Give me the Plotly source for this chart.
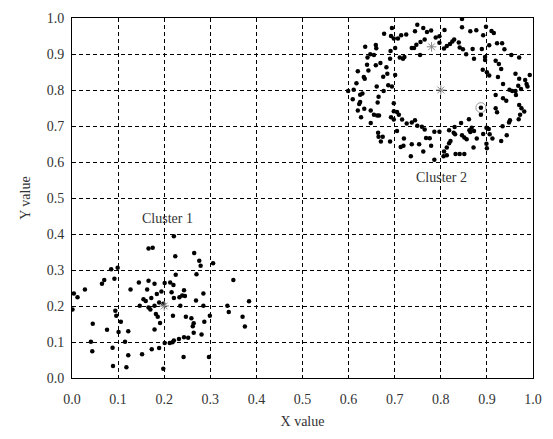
import plotly.graph_objects as go

# Cluster 1 points
c1_x = [0.166,0.175,0.085,0.099,0.092,0.065,0.070,0.028,0.004,0.012,0.127,0.145,0.166,0.179,0.163,0.184,0.194,0.155,0.160,0.172,
        0.147,0.166,0.170,0.179,0.189,0.001,0.094,0.096,0.182,0.186,0.191,0.106,0.045,0.076,0.101,0.122,0.179,0.041,0.115,0.044,
        0.088,0.122,0.152,0.173,0.189,0.089,0.118,0.198,
        0.221,0.224,0.265,0.276,0.279,0.306,0.225,0.270,0.350,0.201,0.213,0.220,0.243,0.216,0.285,0.233,0.239,0.245,0.221,0.269,
        0.384,0.198,0.235,0.285,0.337,0.340,0.219,0.247,0.259,0.299,0.370,0.264,0.262,0.287,0.375,0.264,0.281,0.243,0.252,0.232,
        0.221,0.218,0.201,0.212,0.242,0.297]
c1_y = [0.360,0.362,0.302,0.306,0.276,0.262,0.272,0.246,0.235,0.224,0.246,0.265,0.270,0.262,0.246,0.233,0.240,0.219,0.214,0.222,
        0.201,0.196,0.190,0.201,0.210,0.190,0.187,0.173,0.178,0.170,0.153,0.156,0.151,0.134,0.128,0.130,0.135,0.101,0.101,0.074,
        0.084,0.063,0.066,0.080,0.083,0.033,0.030,0.026,
        0.394,0.338,0.347,0.326,0.312,0.319,0.287,0.288,0.272,0.264,0.265,0.258,0.244,0.238,0.235,0.224,0.229,0.228,0.222,0.215,
        0.213,0.206,0.201,0.201,0.201,0.183,0.173,0.170,0.166,0.173,0.170,0.152,0.144,0.156,0.143,0.126,0.121,0.113,0.112,0.108,
        0.104,0.099,0.097,0.097,0.058,0.058]

# Cluster 2 points
c2_x = [0.749,0.762,0.694,0.677,0.692,0.698,0.707,0.714,0.725,0.744,0.770,0.779,0.789,0.797,0.765,0.756,0.747,0.742,0.737,0.797,
        0.755,0.636,0.659,0.660,0.701,0.691,0.647,0.655,0.641,0.690,0.711,0.718,0.721,0.640,0.659,0.669,0.682,0.620,0.643,0.633,
        0.635,0.675,0.684,0.701,0.617,0.661,0.686,0.694,0.599,0.611,0.630,0.625,0.676,0.609,0.665,0.625,0.623,0.663,0.698,0.620,
        0.634,0.648,0.698,0.705,0.709,0.655,0.662,0.666,0.627,0.692,0.698,0.716,0.648,0.726,0.737,0.744,0.749,0.759,0.765,0.705,
        0.786,0.797,0.664,0.665,0.674,0.670,0.690,0.720,0.768,0.776,0.737,0.753,0.713,0.719,0.779,0.735,0.762,0.786,
        0.846,0.898,0.846,0.864,0.877,0.808,0.910,0.915,0.892,0.829,0.825,0.820,0.813,0.807,0.839,0.841,0.922,0.933,0.848,0.855,
        0.869,0.889,0.905,0.938,0.872,0.896,0.896,0.919,0.953,0.970,0.926,0.891,0.900,0.905,0.931,0.962,0.993,0.924,0.935,0.970,
        0.983,0.986,0.968,0.974,0.962,0.949,0.955,0.988,0.919,0.935,0.942,0.963,0.887,0.919,0.922,0.970,0.975,0.981,0.969,0.972,
        0.887,0.948,0.950,0.934,0.861,0.844,0.830,0.867,0.899,0.904,0.818,0.828,0.831,0.862,0.864,0.872,0.846,0.851,0.892,0.906,
        0.943,0.878,0.856,0.912,0.821,0.818,0.931,0.899,0.871,0.900,0.813,0.807,0.813,0.806,0.832,0.841,0.851]
c2_y = [0.981,0.972,0.972,0.956,0.950,0.943,0.943,0.952,0.954,0.963,0.961,0.965,0.946,0.949,0.940,0.933,0.926,0.917,0.917,0.931,
        0.897,0.920,0.925,0.916,0.917,0.908,0.899,0.897,0.890,0.887,0.890,0.887,0.892,0.870,0.869,0.875,0.863,0.852,0.854,0.836,
        0.831,0.837,0.845,0.842,0.819,0.810,0.813,0.810,0.797,0.801,0.790,0.787,0.797,0.774,0.781,0.767,0.761,0.765,0.763,0.743,
        0.748,0.743,0.741,0.739,0.731,0.731,0.729,0.729,0.724,0.724,0.718,0.718,0.708,0.707,0.710,0.716,0.701,0.698,0.690,0.686,
        0.684,0.684,0.681,0.670,0.670,0.657,0.657,0.665,0.667,0.666,0.649,0.649,0.642,0.645,0.645,0.616,0.629,0.606,
        0.997,0.976,0.974,0.963,0.966,0.967,0.964,0.958,0.952,0.940,0.935,0.928,0.922,0.915,0.932,0.918,0.930,0.930,0.913,0.899,
        0.914,0.914,0.924,0.913,0.887,0.892,0.883,0.881,0.897,0.890,0.872,0.856,0.849,0.840,0.858,0.845,0.842,0.836,0.817,0.831,
        0.828,0.817,0.812,0.803,0.797,0.801,0.797,0.810,0.786,0.777,0.770,0.786,0.751,0.749,0.738,0.758,0.749,0.740,0.719,0.731,
        0.731,0.710,0.716,0.699,0.719,0.708,0.697,0.695,0.695,0.692,0.688,0.681,0.677,0.688,0.683,0.686,0.674,0.668,0.678,0.677,
        0.674,0.665,0.663,0.665,0.658,0.652,0.658,0.651,0.640,0.638,0.640,0.629,0.619,0.616,0.622,0.622,0.622]

# Centre markers (grey)
centre_x = [0.2, 0.78, 0.8]
centre_y = [0.2, 0.92, 0.8]
ring_x = [0.887]
ring_y = [0.751]

ticks = [i / 10 for i in range(11)]
tick_text = [f"{t:.1f}" for t in ticks]

FONT = "Liberation Serif, Times New Roman, serif"

fig = go.Figure()
fig.add_trace(go.Scatter(x=c1_x + c2_x, y=c1_y + c2_y, mode="markers",
                         marker=dict(color="black", size=4.5, line=dict(width=0)),
                         showlegend=False))
fig.add_trace(go.Scatter(x=centre_x, y=centre_y, mode="markers",
                         marker=dict(symbol="asterisk-open", color="#888888", size=8,
                                     line=dict(color="#888888", width=1)),
                         showlegend=False))
fig.add_trace(go.Scatter(x=ring_x, y=ring_y, mode="markers",
                         marker=dict(symbol="circle-open", color="#999999", size=10,
                                     line=dict(color="#999999", width=1)),
                         showlegend=False))

axis_common = dict(
    range=[0, 1], tickvals=ticks, ticktext=tick_text,
    showgrid=True, gridcolor="black", gridwidth=1, griddash="4px,3px",
    showline=True, linecolor="black", linewidth=1, mirror=True,
    ticks="", zeroline=False,
    tickfont=dict(family=FONT, size=14, color="#333333"),
    title_font=dict(family=FONT, size=14, color="#333333"),
)

fig.update_xaxes(**axis_common, title_text="X value", title_standoff=10, ticklabelstandoff=8)
fig.update_yaxes(**axis_common, title_text="Y value", title_standoff=12, ticklabelstandoff=4)

fig.add_annotation(x=0.208, y=0.444, text="Cluster 1", showarrow=False,
                   font=dict(family=FONT, size=14, color="#333333"))
fig.add_annotation(x=0.802, y=0.556, text="Cluster 2", showarrow=False,
                   font=dict(family=FONT, size=14, color="#333333"))

fig.update_layout(
    width=553, height=439,
    margin=dict(l=72, r=11, t=11, b=61),
    paper_bgcolor="white", plot_bgcolor="white",
    font=dict(family=FONT, size=14, color="#333333"),
)

fig.write_html("out.html", config={"displayModeBar": False},
               post_script="document.body.style.margin='0';document.body.style.overflow='hidden';")
